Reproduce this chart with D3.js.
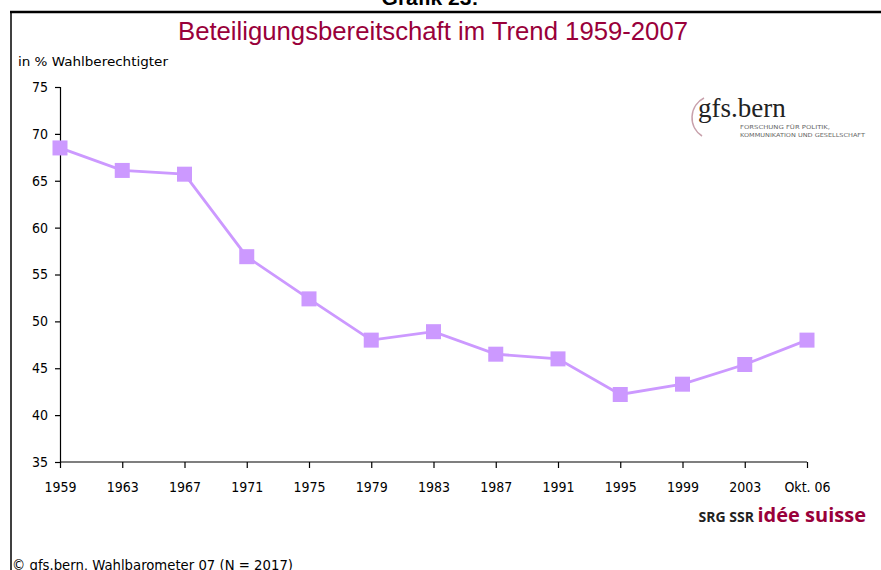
<!DOCTYPE html>
<html>
<head>
<meta charset="utf-8">
<script src="https://cdn.jsdelivr.net/npm/d3@7"></script>
<style>
  body { margin: 0; background: #fff; }
  svg { display: block; }
</style>
</head>
<body>
<div id="chart"></div>
<script>
var years = ["1959", "1963", "1967", "1971", "1975", "1979", "1983", "1987", "1991", "1995", "1999", "2003", "Okt. 06"];
var values = [68.5, 66.1, 65.7, 56.9, 52.4, 48.0, 48.9, 46.5, 46.0, 42.2, 43.3, 45.4, 48.0];
var yTicks = [35, 40, 45, 50, 55, 60, 65, 70, 75];

var width = 881,
    height = 570,
    _line = "#cc99ff",
    _title = "#99003a",
    _font = "DejaVu Sans Condensed, DejaVu Sans";

var svg = d3.select("#chart")
    .append("svg")
    .attr("width", width)
    .attr("height", height);

// frame of the slide (only top and left visible)
svg.append("line")
    .attr("x1", 10).attr("x2", width)
    .attr("y1", 12).attr("y2", 12)
    .style("stroke", "#000").style("stroke-width", 2.5);
svg.append("line")
    .attr("x1", 11).attr("x2", 11)
    .attr("y1", 12).attr("y2", height)
    .style("stroke", "#000").style("stroke-width", 1.5);

svg.append("text")
    .attr("x", 430).attr("y", 5)
    .style("text-anchor", "middle")
    .style("font-family", "Liberation Sans")
    .style("font-weight", "bold")
    .style("font-size", "21px")
    .text("Grafik 23:");

svg.append("text")
    .attr("x", 433).attr("y", 40)
    .style("text-anchor", "middle")
    .style("font-family", "Liberation Sans Narrow, Liberation Sans")
    .style("font-size", "25px")
    .style("fill", _title)
    .attr("textLength", 510)
    .attr("lengthAdjust", "spacingAndGlyphs")
    .text("Beteiligungsbereitschaft im Trend 1959-2007");

svg.append("text")
    .attr("x", 18).attr("y", 66)
    .style("font-family", _font)
    .style("font-size", "13px")
    .attr("textLength", 150)
    .attr("lengthAdjust", "spacingAndGlyphs")
    .text("in % Wahlberechtigter");

var x = d3.scalePoint()
    .domain(years)
    .range([60, 807]);

var y = d3.scaleLinear()
    .domain([35, 75])
    .range([462, 87]);

var gy = svg.append("g")
    .attr("transform", "translate(60,0)")
    .call(d3.axisLeft(y).tickValues(yTicks).tickSize(5).tickPadding(7));

var gx = svg.append("g")
    .attr("transform", "translate(0,462)")
    .call(d3.axisBottom(x).tickSize(6).tickPadding(14));

[gy, gx].forEach(function(g) {
    g.select(".domain").style("stroke", "#000").style("stroke-width", 1.2);
    g.selectAll(".tick line").style("stroke", "#000").style("stroke-width", 1.2);
    g.selectAll("text")
        .style("font-family", _font)
        .style("font-size", "14px")
        .style("fill", "#000");
});
gx.select(".domain").attr("d", "M60,0H807");

var line = d3.line()
    .x(function(d, i) { return x(years[i]); })
    .y(function(d) { return y(d); });

svg.append("path")
    .datum(values)
    .attr("d", line)
    .style("fill", "none")
    .style("stroke", _line)
    .style("stroke-width", 2.8);

svg.selectAll("rect.marker")
    .data(values)
    .enter()
    .append("rect")
    .attr("class", "marker")
    .attr("x", function(d, i) { return x(years[i]) - 7.5; })
    .attr("y", function(d) { return y(d) - 7.5; })
    .attr("width", 15)
    .attr("height", 15)
    .style("fill", _line);

// gfs.bern logo
var logo = svg.append("g").attr("transform", "translate(690,96)");
logo.append("path")
    .attr("d", "M14,2 A22,22 0 0,0 12,40")
    .style("fill", "none")
    .style("stroke", "#c8a0ab")
    .style("stroke-width", 1.5);
logo.append("text")
    .attr("x", 8).attr("y", 21)
    .style("font-family", "Liberation Serif")
    .style("font-size", "27px")
    .style("fill", "#222")
    .text("gfs.bern");
logo.append("text")
    .attr("x", 50).attr("y", 33)
    .style("font-family", "DejaVu Sans")
    .style("font-size", "5.5px")
    .style("fill", "#666")
    .attr("textLength", 90)
    .attr("lengthAdjust", "spacingAndGlyphs")
    .text("FORSCHUNG FÜR POLITIK,");
logo.append("text")
    .attr("x", 50).attr("y", 41)
    .style("font-family", "DejaVu Sans")
    .style("font-size", "5.5px")
    .style("fill", "#666")
    .attr("textLength", 125)
    .attr("lengthAdjust", "spacingAndGlyphs")
    .text("KOMMUNIKATION UND GESELLSCHAFT");

// SRG SSR logo
var srg = svg.append("text")
    .attr("x", 866).attr("y", 522)
    .style("text-anchor", "end")
    .style("font-family", "Open Sans, DejaVu Sans")
    .style("font-weight", "bold");
srg.append("tspan")
    .style("font-size", "14px")
    .style("fill", "#222")
    .text("SRG SSR ");
srg.append("tspan")
    .style("font-size", "20px")
    .style("fill", _title)
    .text("idée suisse");

svg.append("text")
    .attr("x", 12).attr("y", 570)
    .style("font-family", _font)
    .style("font-size", "14px")
    .attr("textLength", 281)
    .attr("lengthAdjust", "spacingAndGlyphs")
    .text("© gfs.bern, Wahlbarometer 07 (N = 2017)");
</script>
</body>
</html>
